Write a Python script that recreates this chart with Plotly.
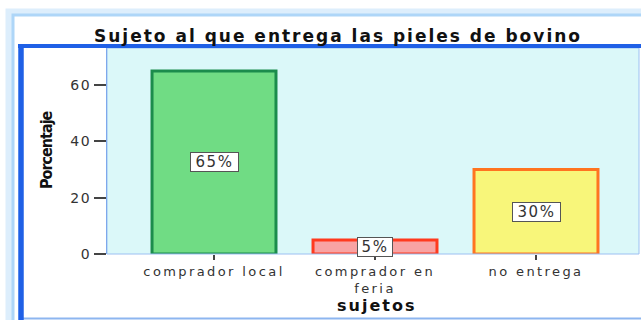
import plotly.graph_objects as go

# Data
categories = ["comprador local", "comprador en<br>feria", "no entrega"]
percentages = [65, 5, 30]
fill_colors = ["#70DC84", "#F8A3A3", "#F8F67A"]
edge_colors = ["#1B8C4C", "#FF3A1E", "#FF7420"]
y_ticks = [0, 20, 40, 60]

W, H = 641, 320
# plot area in pixels
L, R, T, B = 107, 639, 48, 254


def px(x):
    return (x - L) / (R - L)


def py(y):
    return (B - y) / (B - T)


fig = go.Figure()
fig.add_trace(go.Bar(
    x=categories,
    y=percentages,
    width=0.77,
    marker=dict(color=fill_colors, line=dict(color=edge_colors, width=3)),
    hoverinfo="skip",
))

annotations = []
for c, v in zip(categories, percentages):
    label = f"{v}%"
    annotations.append(dict(
        x=c, y=v / 2, xref="x", yref="y", text=label, showarrow=False,
        font=dict(family="DejaVu Sans", size=15, color="#333333"),
        width=13 * len(label) + 6, height=16, align="center", valign="middle",
        bgcolor="white", bordercolor="#555555", borderwidth=1, borderpad=1,
    ))

# axis titles
annotations.append(dict(
    x=px(46), y=py(150), xref="paper", yref="paper", text="<b>Porcentaje</b>",
    textangle=-90, showarrow=False, xanchor="center", yanchor="middle",
    font=dict(family="Liberation Sans Narrow, DejaVu Sans Condensed, sans-serif",
              size=16, color="#111111"),
))
annotations.append(dict(
    x=px(376), y=py(305), xref="paper", yref="paper", text="<b>sujetos</b>",
    showarrow=False, xanchor="center", yanchor="middle",
    font=dict(family="DejaVu Sans", size=16, color="#111111"),
))

shapes = [
    # soft glow around the card
    dict(type="rect", xref="paper", yref="paper", x0=px(9), y0=py(12), x1=px(720), y1=py(400),
         line=dict(color="#DDEEFC", width=7), fillcolor="rgba(0,0,0,0)", layer="above"),
    dict(type="rect", xref="paper", yref="paper", x0=px(13), y0=py(15), x1=px(720), y1=py(400),
         line=dict(color="#AED6F8", width=3), fillcolor="rgba(0,0,0,0)", layer="above"),
    # plot area border
    dict(type="rect", xref="paper", yref="paper", x0=0, y0=0, x1=1, y1=1,
         line=dict(color="#9CC0F2", width=1), fillcolor="rgba(0,0,0,0)", layer="above"),
    # inner frame: bottom line
    dict(type="line", xref="paper", yref="paper", x0=px(20), y0=py(318.5), x1=px(700), y1=py(318.5),
         line=dict(color="#8DB6F0", width=2), layer="above"),
    # inner frame: top bar
    dict(type="line", xref="paper", yref="paper", x0=px(18), y0=py(46), x1=px(700), y1=py(46),
         line=dict(color="#1F60E6", width=4), layer="above"),
    # inner frame: thick left bar
    dict(type="line", xref="paper", yref="paper", x0=px(21), y0=py(44), x1=px(21), y1=py(330),
         line=dict(color="#1F60E6", width=5.5), layer="above"),
]

fig.update_layout(
    width=W, height=H,
    margin=dict(l=L, r=W - R, t=T, b=H - B, pad=0),
    paper_bgcolor="white",
    plot_bgcolor="#DBF8F9",
    showlegend=False,
    title=dict(
        text="<b>Sujeto al que entrega las pieles de bovino</b>",
        x=338 / W, xref="container", xanchor="center",
        y=1 - 36 / H, yref="container", yanchor="middle",
        font=dict(family="DejaVu Sans", size=17, color="#111111"),
    ),
    xaxis=dict(
        type="category",
        range=[(L - 214) / 161, (R - 214) / 161],
        showgrid=False, zeroline=False, showline=False,
        ticks="outside", ticklen=5, tickwidth=2, tickcolor="#444444",
        tickfont=dict(family="DejaVu Sans", size=13, color="#333333"),
        fixedrange=True,
    ),
    yaxis=dict(
        range=[0, 60 * (B - T) / (B - 85)],
        tickvals=y_ticks,
        showgrid=False, zeroline=False,
        showline=True, linecolor="#5F8FE6", linewidth=1,
        ticks="outside", ticklen=12, tickwidth=2, tickcolor="#444444",
        tickfont=dict(family="DejaVu Sans", size=14, color="#333333"),
        fixedrange=True,
    ),
    annotations=annotations,
    shapes=shapes,
)

# wide letter spacing for the SPSS-style lettering
spacing_js = """
var gd = document.getElementById('{plot_id}');
function widenText() {
  function setSpacing(sel, v) {
    gd.querySelectorAll(sel).forEach(function (e) { e.style.letterSpacing = v; });
  }
  setSpacing('.gtitle', '2px');
  setSpacing('.xtick text', '2.4px');
  setSpacing('.ytick text', '1.5px');
  setSpacing('.annotation[data-index="0"] text', '1.5px');
  setSpacing('.annotation[data-index="1"] text', '1.5px');
  setSpacing('.annotation[data-index="2"] text', '1.5px');
  setSpacing('.annotation[data-index="3"] text', '-1px');
  setSpacing('.annotation[data-index="4"] text', '2px');
}
widenText();
gd.on('plotly_afterplot', widenText);
"""

fig.write_html("out.html", config={"displayModeBar": False}, post_script=spacing_js)
